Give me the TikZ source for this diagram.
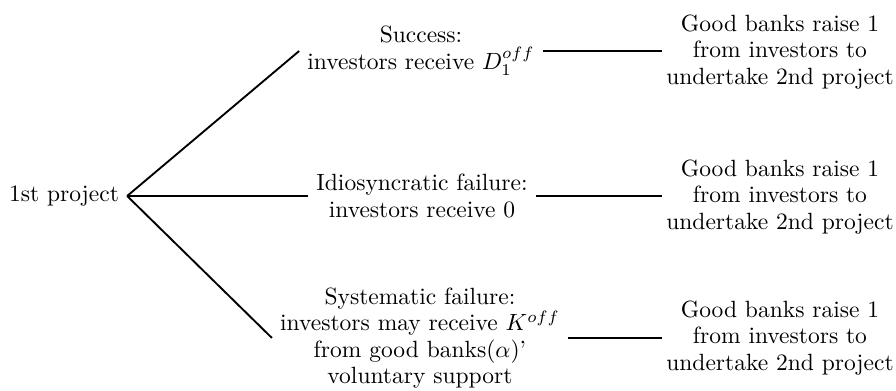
\documentclass[tikz,border=0pt]{standalone}
\begin{document}
\begin{tikzpicture}[x=0.4255pt,y=-0.4255pt,
  lbl/.style={align=center,inner sep=3.3pt,execute at begin node={\baselineskip=11.3pt}},
  goal/.style={lbl,inner xsep=1.8pt},
  conn/.style={line width=0.8pt}]
\useasboundingbox (0,0) rectangle (896,391);
\node[lbl] (root) at (64,196) {1st project};
\node[lbl] (succ) at (421,51) {Success:\\investors receive $D_1^{off}$};
\node[lbl] (idio) at (422,196) {Idiosyncratic failure:\\investors receive 0};
\node[lbl] (syst) at (420,338) {Systematic failure:\\investors may receive $K^{off}$\\from good banks($\alpha$)'\\voluntary support};
\node[goal] (g1) at (780,52) {Good banks raise 1\\from investors to\\undertake 2nd project};
\node[goal] (g2) at (780,197) {Good banks raise 1\\from investors to\\undertake 2nd project};
\node[goal] (g3) at (780,338) {Good banks raise 1\\from investors to\\undertake 2nd project};
\draw[conn] (root.east) -- (succ.west);
\draw[conn] (root.east) -- (idio.west);
\draw[conn] (root.east) -- (syst.west);
\draw[conn] (succ.east) -- (succ.east -| g1.west);
\draw[conn] (idio.east) -- (idio.east -| g2.west);
\draw[conn] (syst.east) -- (syst.east -| g3.west);
\end{tikzpicture}
\end{document}
